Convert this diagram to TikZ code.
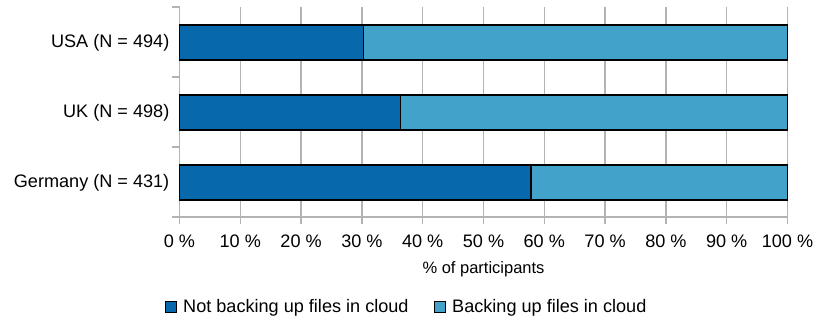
\documentclass[tikz,border=0pt]{standalone}
\usepackage{fontspec}
\setmainfont{Liberation Sans}
\definecolor{notcloud}{HTML}{0868AC}
\definecolor{cloud}{HTML}{43A2CA}
\definecolor{gridgray}{HTML}{B3B3B3}
\begin{document}
\begin{tikzpicture}[x=1pt,y=-1pt,
  gridline/.style={draw=gridgray,line width=1.4pt},
  barpart/.style={draw=black,line width=1.2pt},
  lbl/.style={font=\fontsize{18.1}{21}\selectfont,inner sep=0pt},
  ttl/.style={font=\fontsize{16.5}{19}\selectfont,inner sep=0pt},
  legbox/.style={draw=black,line width=1pt,minimum size=11pt,inner sep=0pt}]
  \useasboundingbox[fill=white] (0,0) rectangle (816,320);
  % horizontal scale: 0 % at 179.5, 100 % at 787.5
  \def\xz{179.5}
  \def\xs{6.08}
  % vertical grid lines and tick marks with labels
  \foreach \p in {0,10,...,100}{
    \draw[gridline] (\xz+\xs*\p,7) -- (\xz+\xs*\p,224);
    \node[lbl,anchor=base] (t\p) at (\xz+\xs*\p,248) {\p{} \%};
  }
  % category axis with tick marks
  \draw[gridline] (\xz,7) -- (\xz,217) -- (\xz+\xs*100,217);
  \foreach \yy in {7,77,147,217}
    \draw[gridline] (172,\yy) -- (\xz,\yy);
  % stacked bars
  \foreach \name/\yt/\v/\lab in {usa/25/30.2/{USA (N = 494)},uk/95/36.4/{UK (N = 498)},de/165/57.8/{Germany (N = 431)}}{
    \filldraw[barpart,fill=notcloud] (\xz,\yt) rectangle (\xz+\xs*\v,\yt+35);
    \filldraw[barpart,fill=cloud] (\xz+\xs*\v,\yt) rectangle (\xz+\xs*100,\yt+35);
    \node[lbl,anchor=east] (\name) at (169.5,\yt+17.5) {\lab};
  }
  % axis title
  \node[ttl,anchor=base] (xt) at (\xz+\xs*50,273) {\% of participants};
  % legend
  \node[legbox,fill=notcloud] (k1) at (170.5,306.5) {};
  \node[lbl,anchor=base west] (l1) at (183,312) {Not backing up files in cloud};
  \node[legbox,fill=cloud] (k2) at (439.5,306.5) {};
  \node[lbl,anchor=base west] (l2) at (452,312) {Backing up files in cloud};
\end{tikzpicture}
\end{document}
